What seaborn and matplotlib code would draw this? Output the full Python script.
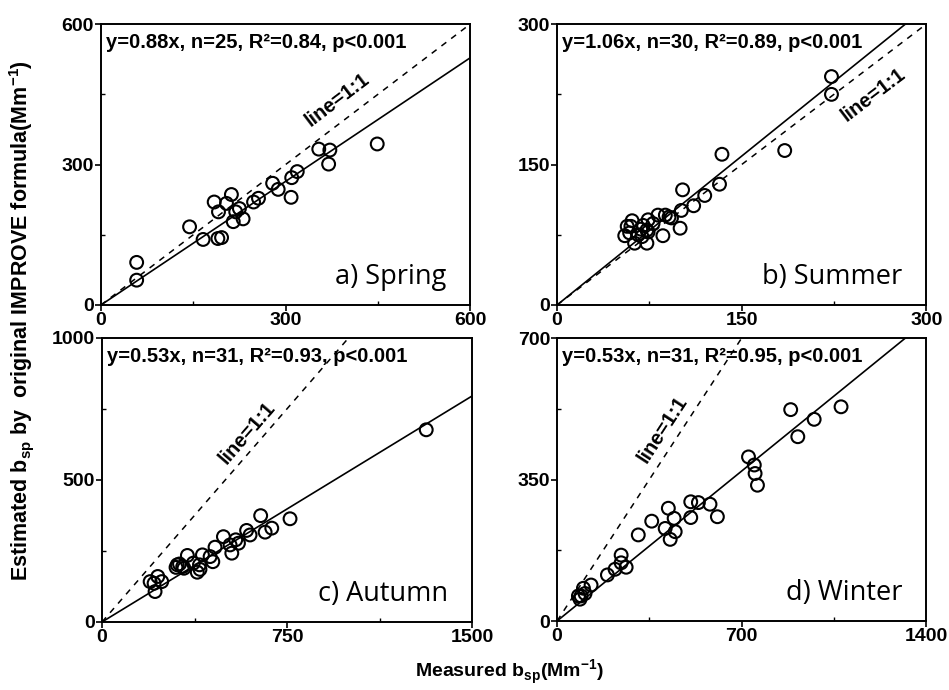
import numpy as np
import matplotlib
matplotlib.use("Agg")
import matplotlib.pyplot as plt
import seaborn as sns

# ======================================================
# DATOS
# ======================================================

spring_x = [58, 58, 144, 166, 190, 196, 184, 191, 204, 212, 219, 225, 215, 231,
            248, 256, 279, 288, 309, 310, 319, 354, 372, 370, 449]
spring_y = [91, 53, 167, 140, 142, 144, 220, 199, 217, 236, 199, 206, 178, 184,
            220, 228, 260, 247, 230, 272, 285, 333, 331, 301, 344]

summer_x = [223, 223, 185, 134, 132, 120, 111, 102, 101, 100, 91, 88, 82, 86, 74,
            73, 74, 73, 68, 63, 61, 60, 57, 55, 66, 69, 78, 93, 59, 70]
summer_y = [244, 225, 165, 161, 129, 117, 106, 123, 101, 82, 94, 96, 96, 74, 91,
            80, 78, 66, 81, 66, 90, 84, 84, 74, 75, 73, 87, 93, 77, 85]

autumn_x = [1314, 762, 643, 661, 688, 600, 586, 542, 526, 492, 458, 449, 407, 395,
            386, 397, 346, 327, 305, 300, 314, 226, 211, 242, 215, 195, 370, 553,
            519, 332, 438]
autumn_y = [676, 363, 374, 316, 330, 306, 322, 289, 242, 300, 263, 212, 236, 201,
            175, 185, 234, 195, 201, 192, 204, 160, 136, 142, 107, 142, 207, 277,
            271, 189, 230]

winter_x = [1077, 886, 975, 913, 726, 748, 751, 760, 580, 608, 536, 507, 507, 422,
            444, 410, 448, 429, 359, 308, 243, 243, 262, 220, 191, 129, 100, 91, 87,
            106, 81]
winter_y = [530, 523, 499, 456, 406, 386, 365, 336, 289, 258, 293, 295, 256, 279,
            254, 229, 221, 202, 247, 213, 163, 144, 133, 128, 114, 89, 81, 62, 54,
            68, 62]

paneles = ["a) Spring", "b) Summer", "c) Autumn", "d) Winter"]
pendientes = [0.88, 1.06, 0.53, 0.53]
n_puntos = [25, 30, 31, 31]
r2_vals = [0.84, 0.89, 0.93, 0.95]
limites = [600, 300, 1500, 1400]
limites_y = [600, 300, 1000, 700]
pos_linea11 = [(384, 438), (257, 224), (588, 665), (402, 473)]

datos = [(spring_x, spring_y), (summer_x, summer_y),
         (autumn_x, autumn_y), (winter_x, winter_y)]

# ======================================================
# FIGURA
# ======================================================

sns.set_style("ticks")
plt.rcParams["font.family"] = ["Liberation Sans", "DejaVu Sans"]
plt.rcParams["mathtext.fontset"] = "custom"
plt.rcParams["mathtext.rm"] = "Liberation Sans"
plt.rcParams["mathtext.bf"] = "Liberation Sans:bold"
plt.rcParams["axes.linewidth"] = 1.4
for clave in ["text.color", "axes.labelcolor", "xtick.color", "ytick.color",
              "axes.edgecolor"]:
    plt.rcParams[clave] = "black"

fig = plt.figure(figsize=(9.49, 6.9), dpi=100)
posiciones = [
    [0.1064, 0.558, 0.389, 0.407],
    [0.587, 0.558, 0.389, 0.407],
    [0.1075, 0.0986, 0.390, 0.412],
    [0.587, 0.100, 0.389, 0.410],
]

for i in range(4):
    ax = fig.add_axes(posiciones[i])
    xs, ys = datos[i]
    xmax = limites[i]
    ymax = limites_y[i]

    # linea 1:1 y ajuste
    xx = np.array([0, xmax])
    ax.plot(xx, xx, color="black", linestyle=(0, (4, 4)), linewidth=1.1)
    ax.plot(xx, pendientes[i] * xx, color="black", linewidth=1.2)

    sns.scatterplot(x=xs, y=ys, ax=ax, s=85, facecolor="none",
                    edgecolor="black", linewidth=1.5, zorder=3)

    ax.set_xlim(0, xmax)
    ax.set_ylim(0, ymax)
    ax.set_xticks([0, xmax / 2, xmax])
    ax.set_yticks([0, ymax / 2, ymax])
    ax.set_xticks([xmax / 4, 3 * xmax / 4], minor=True)
    ax.set_yticks([ymax / 4, 3 * ymax / 4], minor=True)
    ax.set_xticklabels([f"{v:g}" for v in [0, xmax / 2, xmax]])
    ax.set_yticklabels([f"{v:g}" for v in [0, ymax / 2, ymax]])
    ax.tick_params(which="major", direction="out", length=4, width=1.2,
                   labelsize=14, pad=1)
    ax.tick_params(which="minor", direction="in", length=3, width=1.0)
    for lab in ax.get_xticklabels() + ax.get_yticklabels():
        lab.set_fontweight("bold")

    ax.text(0.014, 0.935,
            f"y={pendientes[i]:.2f}x, n={n_puntos[i]}, R²={r2_vals[i]:.2f}, p<0.001",
            transform=ax.transAxes, fontsize=14.5, fontweight="bold",
            ha="left", va="center")
    ax.text(0.935, 0.075, paneles[i], transform=ax.transAxes,
            fontsize=19.5, family=["Open Sans", "DejaVu Sans"],
            ha="right", va="baseline")

    lx, ly = pos_linea11[i]
    ax.text(lx, ly, "line=1:1", transform=ax.transData, rotation=45,
            transform_rotates_text=True, rotation_mode="anchor",
            fontsize=14.5, fontweight="bold", ha="center", va="center")

fig.text(0.023, 0.535,
         "Estimated b$_\\mathbf{sp}$ by  original IMPROVE formula(Mm$^\\mathbf{-1}$)",
         rotation=90, ha="center", va="center", fontsize=15.5, fontweight="bold")
fig.text(0.537, 0.026, "Measured b$_\\mathbf{sp}$(Mm$^\\mathbf{-1}$)",
         ha="center", va="center", fontsize=14, fontweight="bold")

plt.savefig("out.png", dpi=100)
plt.close()
